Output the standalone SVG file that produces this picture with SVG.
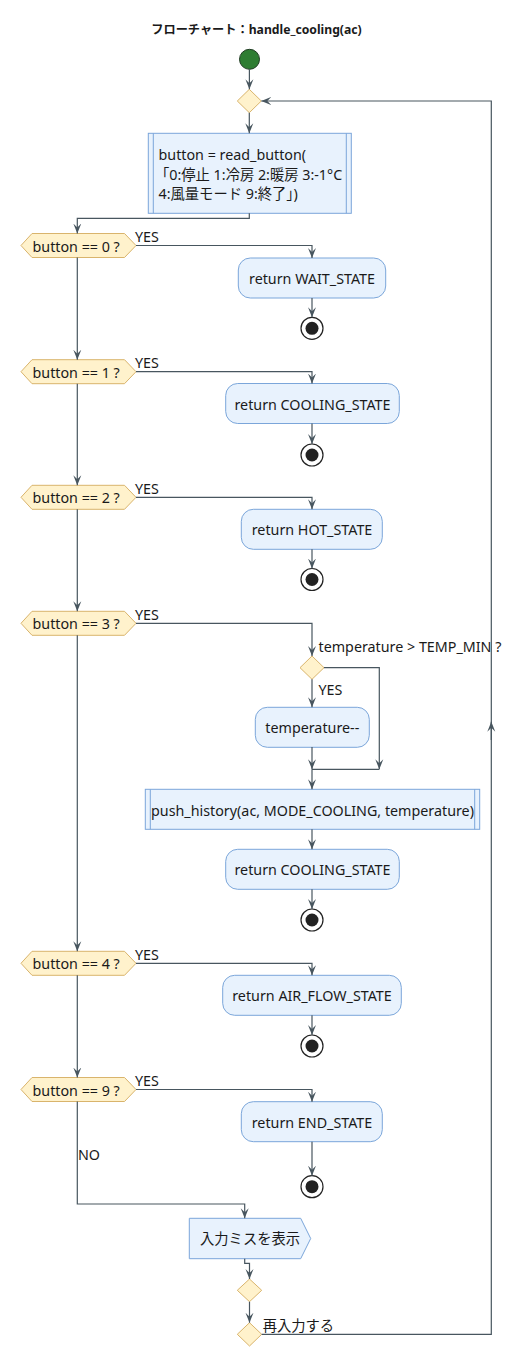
<svg xmlns="http://www.w3.org/2000/svg" width="516" height="1357" viewBox="0 0 516 1357">
<style>
text{font-family:"Noto Sans","Noto Sans CJK JP",sans-serif;font-size:14.3px;fill:#1a1a1a}
.title{font-weight:bold;font-size:12.2px}
.c{text-anchor:middle}
.act{fill:#e8f2fd;stroke:#7ba6da;stroke-width:1}
.dec{fill:#fff2cc;stroke:#d9b46c;stroke-width:1}
.edge{fill:none;stroke:#48565f;stroke-width:1.2}
.arr{marker-end:url(#ah)}
.endo{fill:#fff;stroke:#222;stroke-width:1.2}
.endi{fill:#222}
</style>
<defs>
<marker id="ah" viewBox="0 0 10 10" refX="10" refY="5" markerWidth="10" markerHeight="10" markerUnits="userSpaceOnUse" orient="auto">
<path d="M0,1 L10,5 L0,9 L4,5 z" fill="#48565f"/>
</marker>
</defs>
<text class="title c" x="256.5" y="34">フローチャート：handle_cooling(ac)</text>
<g id="start"><circle cx="249.5" cy="59.3" r="10" fill="#2e7d32" stroke="#1f3b22" stroke-width="1"/></g>
<g id="merge1"><polygon class="dec" points="249.3,89.3 261.3,101 249.3,112.7 237.3,101"/></g>
<g id="read"><rect class="act" x="148.3" y="133.3" width="203" height="80"/><line x1="153.3" y1="133.3" x2="153.3" y2="213.3" stroke="#7ba6da"/><line x1="346.3" y1="133.3" x2="346.3" y2="213.3" stroke="#7ba6da"/>
<text x="158.5" y="160">button = read_button(</text><text x="155" y="179.5">「0:停止 1:冷房 2:暖房 3:-1°C</text><text x="158.5" y="199">4:風量モード 9:終了」)</text></g>
<g id="dec0"><polygon class="dec" points="21,245.5 32,233.5 124.5,233.5 136,245.5 124.5,257.5 32,257.5"/><text x="32.5" y="251.5">button == 0 ?</text></g>
<g id="wait"><rect class="act" x="238.3" y="258" width="147.4" height="40" rx="12"/><text class="c" x="312" y="284">return WAIT_STATE</text></g>
<g id="end0"><circle class="endo" cx="312" cy="328.3" r="11"/><circle class="endi" cx="312" cy="328.3" r="6.5"/></g>
<g id="dec1"><polygon class="dec" points="21,371.7 32,359.7 124.5,359.7 136,371.7 124.5,383.7 32,383.7"/><text x="32.5" y="377.7">button == 1 ?</text></g>
<g id="cool1"><rect class="act" x="225.7" y="383.5" width="173.6" height="40" rx="12"/><text class="c" x="312.5" y="409.5">return COOLING_STATE</text></g>
<g id="end1"><circle class="endo" cx="312" cy="455" r="11"/><circle class="endi" cx="312" cy="455" r="6.5"/></g>
<g id="dec2"><polygon class="dec" points="21,497.3 32,485.3 124.5,485.3 136,497.3 124.5,509.3 32,509.3"/><text x="32.5" y="503.3">button == 2 ?</text></g>
<g id="hot"><rect class="act" x="241.3" y="509.3" width="141" height="40" rx="12"/><text class="c" x="312" y="535.3">return HOT_STATE</text></g>
<g id="end2"><circle class="endo" cx="312" cy="579.5" r="11"/><circle class="endi" cx="312" cy="579.5" r="6.5"/></g>
<g id="dec3"><polygon class="dec" points="21,623.3 32,611.3 124.5,611.3 136,623.3 124.5,635.3 32,635.3"/><text x="32.5" y="629.3">button == 3 ?</text></g>
<g id="tdec"><polygon class="dec" points="312,656 324,667.7 312,679.3 300,667.7"/></g>
<g id="tdown"><rect class="act" x="255.3" y="707.3" width="114" height="40" rx="12"/><text class="c" x="312.3" y="733">temperature--</text></g>
<g id="push"><rect class="act" x="145.3" y="789.3" width="334.4" height="40"/><line x1="150.3" y1="789.3" x2="150.3" y2="829.3" stroke="#7ba6da"/><line x1="474.7" y1="789.3" x2="474.7" y2="829.3" stroke="#7ba6da"/><text class="c" x="312.5" y="815.5">push_history(ac, MODE_COOLING, temperature)</text></g>
<g id="cool3"><rect class="act" x="225.7" y="849.3" width="173.6" height="40" rx="12"/><text class="c" x="312.5" y="875.3">return COOLING_STATE</text></g>
<g id="end3"><circle class="endo" cx="312" cy="920" r="11"/><circle class="endi" cx="312" cy="920" r="6.5"/></g>
<g id="dec4"><polygon class="dec" points="21,963.3 32,951.3 124.5,951.3 136,963.3 124.5,975.3 32,975.3"/><text x="32.5" y="969.3">button == 4 ?</text></g>
<g id="air"><rect class="act" x="222.7" y="975.3" width="178.6" height="40" rx="12"/><text class="c" x="312" y="1001.3">return AIR_FLOW_STATE</text></g>
<g id="end4"><circle class="endo" cx="312" cy="1046" r="11"/><circle class="endi" cx="312" cy="1046" r="6.5"/></g>
<g id="dec9"><polygon class="dec" points="21,1089.5 32,1077.5 124.5,1077.5 136,1089.5 124.5,1101.5 32,1101.5"/><text x="32.5" y="1095.5">button == 9 ?</text></g>
<g id="endst"><rect class="act" x="241.3" y="1101.7" width="141" height="40" rx="12"/><text class="c" x="312" y="1127.5">return END_STATE</text></g>
<g id="end9"><circle class="endo" cx="312" cy="1186.7" r="11"/><circle class="endi" cx="312" cy="1186.7" r="6.5"/></g>
<g id="err"><polygon class="act" points="189.3,1218.3 300.7,1218.3 310.7,1238.5 300.7,1258.7 189.3,1258.7"/><text x="200" y="1244">入力ミスを表示</text></g>
<g id="merge2"><polygon class="dec" points="249.5,1279 261.7,1290.3 249.5,1301.7 237.3,1290.3"/></g>
<g id="retry"><polygon class="dec" points="249.5,1322.7 261.7,1334.3 249.5,1346 237.3,1334.3"/></g>
<g id="connectors">
<path class="edge arr" d="M249.4,69.3 V89.3"/>
<path class="edge arr" d="M249.3,112.7 V133.3"/>
<path class="edge arr" d="M249.3,213.3 V218.3 H77.3 V233.5"/>
<path class="edge arr" d="M136,245.5 H312 V258"/>
<path class="edge arr" d="M312,298 V317.3"/>
<path class="edge arr" d="M77.3,257.5 V359.7"/>
<path class="edge arr" d="M136,371.7 H312 V383.5"/>
<path class="edge arr" d="M312,423.5 V444"/>
<path class="edge arr" d="M77.3,383.7 V485.3"/>
<path class="edge arr" d="M136,497.3 H312 V509.3"/>
<path class="edge arr" d="M312,549.3 V568.5"/>
<path class="edge arr" d="M77.3,509.3 V611.3"/>
<path class="edge arr" d="M136,623.3 H312 V656"/>
<path class="edge arr" d="M312,679.3 V707.3"/>
<path class="edge arr" d="M324,667.7 H379.3 V769.3"/>
<path class="edge arr" d="M312,747 V769.3"/>
<path class="edge" d="M312,769.3 H379.3"/>
<path class="edge arr" d="M312,769.3 V789.3"/>
<path class="edge arr" d="M312,829.3 V849.3"/>
<path class="edge arr" d="M312,889.3 V909"/>
<path class="edge arr" d="M77.3,635.3 V951.3"/>
<path class="edge arr" d="M136,963.3 H312 V975.3"/>
<path class="edge arr" d="M312,1015.3 V1035"/>
<path class="edge arr" d="M77.3,975.3 V1077.5"/>
<path class="edge arr" d="M136,1089.5 H312 V1101.7"/>
<path class="edge arr" d="M312,1141.7 V1175.7"/>
<path class="edge arr" d="M77.3,1101.5 V1204 H244.7 V1218.3"/>
<path class="edge arr" d="M244.7,1258.7 V1263.3 H249.5 V1279"/>
<path class="edge arr" d="M249.5,1301.7 V1322.7"/>
<path class="edge arr" d="M261.7,1334.3 H491.3 V101 H261.3"/>
<path class="edge arr" d="M491.3,740 V721.7"/>
<text x="135" y="242">YES</text>
<text x="135" y="368">YES</text>
<text x="135" y="494">YES</text>
<text x="135" y="620">YES</text>
<text x="318.5" y="652">temperature &gt; TEMP_MIN ?</text>
<text x="318.5" y="695">YES</text>
<text x="135" y="960">YES</text>
<text x="135" y="1086">YES</text>
<text x="78" y="1160">NO</text>
<text x="262.7" y="1330.5">再入力する</text>
</g>
</svg>
